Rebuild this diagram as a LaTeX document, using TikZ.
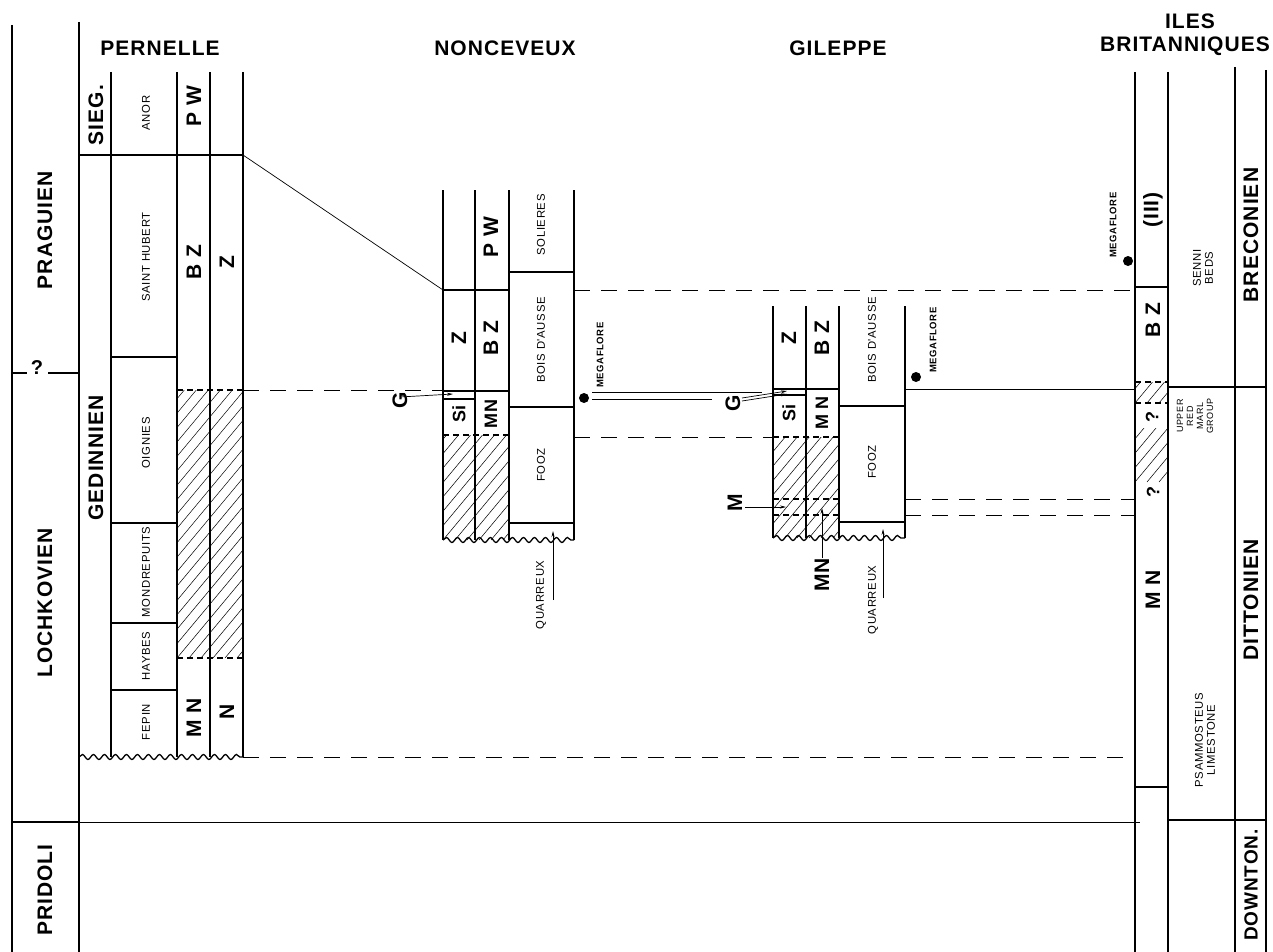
\documentclass[tikz,border=0pt]{standalone}
\usepackage{fontspec}
\setmainfont{Liberation Sans}
\newfontfamily\bigf[LetterSpace=5]{Liberation Sans}
\newfontfamily\smallf[LetterSpace=6]{Liberation Sans}
\usetikzlibrary{decorations.pathmorphing,arrows.meta}
\newcommand{\hatchrect}[4]{%
  \begin{scope}
    \clip (#1,#2) rectangle (#3,#4);
    \foreach \k in {-30,...,8}{\draw[hatchl] ({#1+\k*12},#4) -- ++(300,-360);}
  \end{scope}}
\begin{document}
\begin{tikzpicture}[x=1pt,y=-1pt,
  thickl/.style={line width=2.4pt},
  thinl/.style={line width=0.7pt},
  dashl/.style={line width=0.8pt,dash pattern=on 16pt off 11pt},
  hdash/.style={line width=1.8pt,dash pattern=on 6pt off 4pt},
  wavy/.style={line width=1.3pt,decorate,decoration={snake,amplitude=2.5pt,segment length=11pt}},
  big/.style={font=\bigf\fontsize{21}{21}\selectfont\bfseries, inner sep=0pt},
  bigr/.style={big, rotate=90},
  mid/.style={font=\bigf\fontsize{18}{18}\selectfont\bfseries, inner sep=0pt, rotate=90},
  small/.style={font=\smallf\fontsize{11.3}{12}\selectfont, inner sep=0pt, rotate=90},
  smallc/.style={small, align=center},
  tiny/.style={font=\smallf\fontsize{9}{10}\selectfont, inner sep=0pt, rotate=90, align=center},
  mega/.style={font=\smallf\fontsize{9.5}{9.5}\selectfont\bfseries, inner sep=0pt, rotate=90},
  hatchl/.style={line width=0.5pt},
  lead/.style={line width=0.7pt,-{Stealth[length=6pt,width=3pt]}},
  dot/.style={circle, fill=black, inner sep=0pt, minimum size=10pt},
]
\useasboundingbox (0,0) rectangle (1273,952);

% ---------------- frame and stages ----------------
\draw[thickl] (12,25) -- (12,952);
\draw[thickl] (79,22) -- (79,952);
\draw[thickl] (12,373) -- (27,373);
\draw[thickl] (48,373) -- (79,373);
\node[font=\bfseries\fontsize{20}{20}\selectfont, inner sep=0pt] (qleft) at (37,368) {?};
\draw[thickl] (12,822) -- (79,822);
\draw[thinl] (79,822) -- (1140,822);
\node[bigr] (prag) at (45,230) {PRAGUIEN};
\node[bigr] (lochk) at (45,603) {LOCHKOVIEN};
\node[bigr] (prid) at (45,890) {PRIDOLI};

% ---------------- PERNELLE ----------------
\node[big] (pern) at (160,48) {PERNELLE};
\hatchrect{177}{390}{243}{658}
\foreach \x in {111,177,210,243}{\draw[thickl] (\x,72) -- (\x,757);}
\draw[thickl] (79,155) -- (243,155);
\draw[thickl] (111,357) -- (177,357);
\draw[thickl] (111,523) -- (177,523);
\draw[thickl] (111,623) -- (177,623);
\draw[thickl] (111,690) -- (177,690);
\draw[hdash] (177,390) -- (243,390);
\draw[hdash] (177,658) -- (243,658);
\draw[wavy] (79,757) -- (243,757);
\node[bigr] (sieg) at (96,115) {SIEG.};
\node[small] (anor) at (146,113) {ANOR};
\node[bigr] (pwP) at (194,106) {P W};
\node[small] (sh) at (146,257) {SAINT HUBERT};
\node[bigr] (bzP) at (194,262) {B Z};
\node[bigr] (zP) at (227,262) {Z};
\node[bigr] (ged) at (96,458) {GEDINNIEN};
\node[small] (oig) at (146,443) {OIGNIES};
\node[small] (mond) at (146,572) {MONDREPUITS};
\node[small] (hay) at (146,656) {HAYBES};
\node[small] (fep) at (146,722) {FEPIN};
\node[bigr] (mnP) at (194,718) {M N};
\node[bigr] (nP) at (227,712) {N};

% correlation Pernelle -> Nonceveux
\coordinate (pTop) at (243,155);
\coordinate (nTop) at (443,290);
\draw[thinl] (pTop) -- (nTop);
\coordinate (pG) at (243,390);
\coordinate (nG) at (443,390);
\draw[dashl] (pG) -- (nG);
\coordinate (pBase) at (243,757);
\coordinate (iBase) at (1135,757);
\draw[dashl] (pBase) -- (iBase);

% ---------------- NONCEVEUX ----------------
\node[big] (nonc) at (505,48) {NONCEVEUX};
\hatchrect{443}{435}{509}{540}
\foreach \x in {443,475,509,574}{\draw[thickl] (\x,190) -- (\x,540);}
\draw[thickl] (443,290) -- (509,290);
\draw[thickl] (509,272) -- (574,272);
\draw[thickl] (443,391) -- (509,391);
\draw[thickl] (443,399) -- (475,399);
\draw[thickl] (509,407) -- (574,407);
\draw[hdash] (443,435) -- (509,435);
\draw[thickl] (509,523) -- (574,523);
\draw[wavy] (443,540) -- (574,540);
\node[bigr] (pwN) at (491,237) {P W};
\node[small] (sol) at (541,225) {SOLIERES};
\node[bigr] (zN) at (459,338) {Z};
\node[bigr] (bzN) at (491,338) {B Z};
\node[small] (baN) at (541,340) {BOIS D'AUSSE};
\node[mid] (siN) at (459,414) {Si};
\node[mid] (mnN) at (491,414) {MN};
\node[small] (foozN) at (541,465) {FOOZ};
\node[small] (quN) at (541,595) {QUARREUX};
\coordinate (quNtip) at (553,531);
\draw[lead] (553,600) -- (quNtip);
\node[bigr] (gN) at (400,400) {G};
\coordinate (gNtip) at (453,394);
\draw[lead] (gN.east |- 0,397) -- (gNtip);
\node[dot] (dotN) at (584,398) {};
\node[mega] (megN) at (600,355) {MEGAFLORE};

% correlation Nonceveux -> Gileppe / Iles
\coordinate (nPW) at (574,290);
\coordinate (iPW) at (1135,290);
\draw[dashl] (nPW) -- (iPW);
\draw[thinl] (592,392) -- (762,392);
\draw[thinl] (592,399) -- (712,399);
\coordinate (nHat) at (574,437);
\coordinate (gHat) at (773,437);
\draw[dashl] (nHat) -- (gHat);

% ---------------- GILEPPE ----------------
\node[big] (gil) at (838,48) {GILEPPE};
\hatchrect{773}{437}{839}{538}
\foreach \x in {773,806,839,905}{\draw[thickl] (\x,306) -- (\x,538);}
\draw[thickl] (773,389) -- (839,389);
\draw[thickl] (773,395) -- (806,395);
\draw[thickl] (839,406) -- (905,406);
\draw[hdash] (773,437) -- (839,437);
\draw[hdash] (773,499) -- (839,499);
\draw[hdash] (773,515) -- (839,515);
\draw[thickl] (839,522) -- (905,522);
\draw[wavy] (773,538) -- (905,538);
\node[bigr] (zG) at (789,338) {Z};
\node[bigr] (bzG) at (822,338) {B Z};
\node[small] (baG) at (872,340) {BOIS D'AUSSE};
\node[mid] (siG) at (789,413) {Si};
\node[mid] (mnG) at (822,413) {M N};
\node[small] (foozG) at (872,462) {FOOZ};
\node[small] (quG) at (873,600) {QUARREUX};
\coordinate (quGtip) at (883,529);
\draw[lead] (883,598) -- (quGtip);
\node[bigr] (gG) at (733,403) {G};
\coordinate (gGtip1) at (787,391);
\coordinate (gGtip2) at (787,394);
\draw[lead] (742,398) -- (gGtip1);
\draw[lead] (742,401) -- (gGtip2);
\node[bigr] (mG) at (735,503) {M};
\coordinate (mGtip) at (786,507);
\draw[lead] (745,507) -- (mGtip);
\node[bigr] (mnG2) at (822,575) {MN};
\coordinate (mnGtip) at (822,508);
\draw[lead] (822,558) -- (mnGtip);
\node[dot] (dotG) at (916,377) {};
\node[mega] (megG) at (933,340) {MEGAFLORE};

% correlation Gileppe -> Iles
\coordinate (gBA) at (905,389);
\coordinate (iBA) at (1135,389);
\draw[thinl] (gBA) -- (iBA);
\coordinate (gM1) at (905,499);
\coordinate (iM1) at (1135,499);
\draw[dashl] (gM1) -- (iM1);
\coordinate (gM2) at (905,515);
\coordinate (iM2) at (1135,515);
\draw[dashl] (gM2) -- (iM2);

% ---------------- ILES BRITANNIQUES ----------------
\node[big] (iles1) at (1190,21) {ILES};
\node[big] (iles2) at (1185,46) {BRITANNIQUES};
\hatchrect{1135}{382}{1168}{403}
\hatchrect{1135}{428}{1168}{482}
\draw[thickl] (1135,72) -- (1135,952);
\draw[thickl] (1168,72) -- (1168,952);
\draw[thickl] (1235,67) -- (1235,952);
\draw[thickl] (1266,70) -- (1266,952);
\draw[thickl] (1135,287) -- (1168,287);
\draw[thickl] (1168,387) -- (1266,387);
\draw[hdash] (1135,382) -- (1168,382);
\draw[hdash] (1135,403) -- (1168,403);
\draw[thickl] (1135,787) -- (1168,787);
\draw[thickl] (1168,820) -- (1266,820);
\node[dot] (dotI) at (1128,261) {};
\node[mega] (megI) at (1113,225) {MEGAFLORE};
\node[bigr] (iii) at (1153,210) {(III)};
\node[bigr] (bzI) at (1153,320) {B Z};
\node[mid] (q1) at (1152,417) {?};
\node[mid] (q2) at (1153,492) {?};
\node[bigr] (mnI) at (1153,590) {M N};
\node[smallc] (senni) at (1203,268) {SENNI\\BEDS};
\node[tiny] (urmg) at (1195,416) {UPPER\\RED\\MARL\\GROUP};
\node[smallc] (psam) at (1205,740) {PSAMMOSTEUS\\LIMESTONE};
\node[bigr] (brec) at (1251,235) {BRECONIEN};
\node[bigr] (ditt) at (1251,600) {DITTONIEN};
\node[bigr, font=\bigf\fontsize{19}{19}\selectfont\bfseries] (down) at (1251,885) {DOWNTON.};
\end{tikzpicture}
\end{document}
